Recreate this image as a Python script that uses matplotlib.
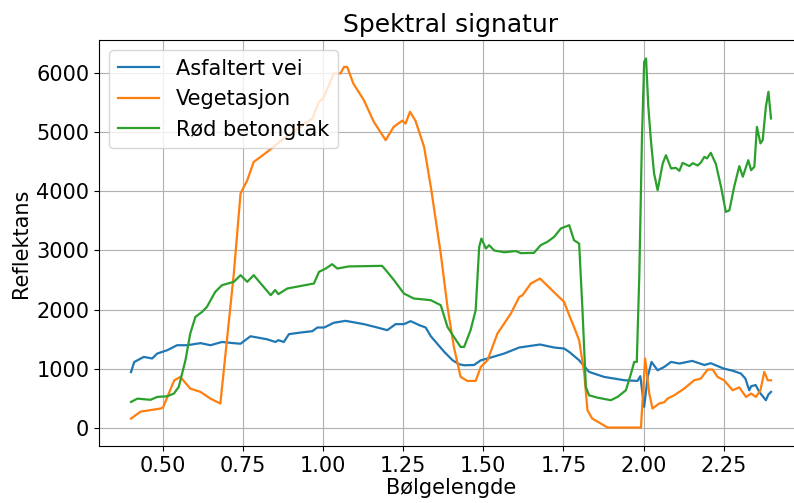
import matplotlib
matplotlib.use("Agg")
import matplotlib.pyplot as plt

# values (wavelength in um, reflectance)
asfalt_wl = [0.40, 0.41, 0.44, 0.466, 0.482, 0.513, 0.544, 0.575, 0.617, 0.648, 0.684,
             0.72, 0.742, 0.773, 0.80, 0.825, 0.851, 0.86, 0.877, 0.893, 0.93, 0.966,
             0.982, 1.003, 1.033, 1.07, 1.127, 1.169, 1.20, 1.226, 1.252, 1.273, 1.30,
             1.32, 1.336, 1.378, 1.404, 1.424, 1.44, 1.471, 1.492, 1.513, 1.565, 1.612,
             1.677, 1.721, 1.752, 1.768, 1.799, 1.83, 1.877, 1.94, 1.981, 1.99, 2.002,
             2.013, 2.025, 2.044, 2.065, 2.086, 2.112, 2.152, 2.19, 2.21, 2.25, 2.28,
             2.304, 2.318, 2.33, 2.336, 2.35, 2.362, 2.382, 2.39, 2.398]
asfalt = [940, 1110, 1197, 1170, 1254, 1310, 1395, 1395, 1430, 1395, 1450,
          1430, 1420, 1547, 1520, 1495, 1450, 1480, 1450, 1582, 1610, 1633,
          1695, 1695, 1775, 1808, 1752, 1695, 1650, 1752, 1752, 1803, 1735,
          1695, 1547, 1282, 1140, 1073, 1055, 1060, 1140, 1170, 1254, 1356,
          1407, 1356, 1339, 1282, 1140, 943, 858, 802, 790, 870, 350,
          858, 1112, 970, 1028, 1112, 1085, 1129, 1060, 1090, 1000, 960,
          915, 830, 632, 700, 720, 600, 463, 560, 604]

veg_wl = [0.40, 0.43, 0.492, 0.50, 0.535, 0.554, 0.585, 0.617, 0.648, 0.679, 0.721,
          0.742, 0.763, 0.783, 0.825, 0.846, 0.877, 0.966, 0.987, 1.00, 1.033, 1.054,
          1.065, 1.075, 1.094, 1.127, 1.158, 1.195, 1.22, 1.247, 1.257, 1.271, 1.288,
          1.315, 1.336, 1.367, 1.388, 1.408, 1.429, 1.45, 1.476, 1.492, 1.513, 1.544,
          1.586, 1.612, 1.622, 1.648, 1.677, 1.71, 1.725, 1.752, 1.768, 1.783, 1.799,
          1.815, 1.825, 1.84, 1.888, 1.992, 2.005, 2.018, 2.028, 2.049, 2.065, 2.075,
          2.096, 2.127, 2.158, 2.179, 2.20, 2.216, 2.231, 2.252, 2.278, 2.299, 2.32,
          2.336, 2.351, 2.365, 2.377, 2.388, 2.398]
veg = [152, 270, 322, 340, 800, 858, 660, 604, 490, 407, 2610,
       3966, 4190, 4500, 4670, 4760, 4900, 5237, 5520, 5575, 6000, 6000,
       6110, 6110, 5830, 5547, 5180, 4870, 5095, 5200, 5150, 5350, 5200,
       4756, 4078, 2949, 2044, 1366, 858, 790, 790, 1027, 1140, 1593,
       1932, 2213, 2240, 2440, 2525, 2350, 2270, 2130, 1904, 1705, 1480,
       915, 293, 152, 0, 0, 1169, 576, 322, 407, 430, 490,
       547, 660, 800, 830, 983, 983, 858, 800, 632, 680, 519,
       576, 519, 632, 943, 800, 800]

tak_wl = [0.40, 0.42, 0.461, 0.482, 0.513, 0.534, 0.549, 0.57, 0.585, 0.601, 0.622,
          0.637, 0.663, 0.684, 0.721, 0.742, 0.763, 0.783, 0.836, 0.85, 0.86, 0.888,
          0.971, 0.987, 1.008, 1.028, 1.044, 1.08, 1.184, 1.20, 1.221, 1.252, 1.283,
          1.315, 1.336, 1.367, 1.388, 1.408, 1.429, 1.44, 1.46, 1.476, 1.487, 1.494,
          1.508, 1.518, 1.534, 1.565, 1.601, 1.617, 1.658, 1.679, 1.70, 1.721, 1.742,
          1.768, 1.783, 1.799, 1.809, 1.82, 1.83, 1.856, 1.898, 1.919, 1.945, 1.961,
          1.971, 1.979, 1.987, 1.995, 2.002, 2.008, 2.015, 2.023, 2.033, 2.044, 2.06,
          2.07, 2.086, 2.101, 2.112, 2.122, 2.143, 2.154, 2.169, 2.179, 2.19, 2.198,
          2.21, 2.226, 2.242, 2.257, 2.268, 2.283, 2.299, 2.31, 2.327, 2.336, 2.346,
          2.354, 2.365, 2.372, 2.382, 2.39, 2.398]
tak = [434, 490, 470, 519, 530, 576, 688, 1140, 1593, 1875, 1960,
       2044, 2299, 2412, 2469, 2582, 2469, 2582, 2243, 2330, 2260, 2356,
       2441, 2638, 2694, 2768, 2694, 2730, 2740, 2638, 2497, 2271, 2186,
       2170, 2158, 2073, 1705, 1536, 1366, 1366, 1649, 1988, 3061, 3203,
       3033, 3090, 3000, 2970, 2990, 2955, 2960, 3090, 3147, 3231, 3373,
       3429, 3175, 3118, 2044, 688, 547, 507, 463, 519, 632, 915,
       1112, 1112, 2610, 4870, 6197, 6254, 5434, 4870, 4305, 4022, 4475,
       4615, 4390, 4400, 4350, 4485, 4430, 4480, 4440, 4490, 4587, 4560,
       4655, 4465, 4078, 3654, 3680, 4078, 4430, 4250, 4530, 4360, 4420,
       5095, 4815, 4870, 5434, 5690, 5237]

series = [
    ("Asfaltert vei", asfalt_wl, asfalt),
    ("Vegetasjon", veg_wl, veg),
    ("Rød betongtak", tak_wl, tak),
]

fig = plt.figure(figsize=(7.94, 5.03), dpi=100)
# axes run past the right edge, like the cropped reference
ax = fig.add_axes([99 / 794, 57 / 503, 704 / 794, 406 / 503])

for name, wl, vals in series:
    ax.plot(wl, vals, label=name, linewidth=1.6)

ax.set_title("Spektral signatur", fontsize=18)
ax.set_xlabel("Bølgelengde", fontsize=15, labelpad=2)
ax.set_ylabel("Reflektans", fontsize=15)
ax.tick_params(labelsize=15)
ax.set_xticks([0.5, 0.75, 1.0, 1.25, 1.5, 1.75, 2.0, 2.25])
ax.grid(True)
ax.legend(loc="upper left", fontsize=15)

fig.savefig("out.png", dpi=100)
